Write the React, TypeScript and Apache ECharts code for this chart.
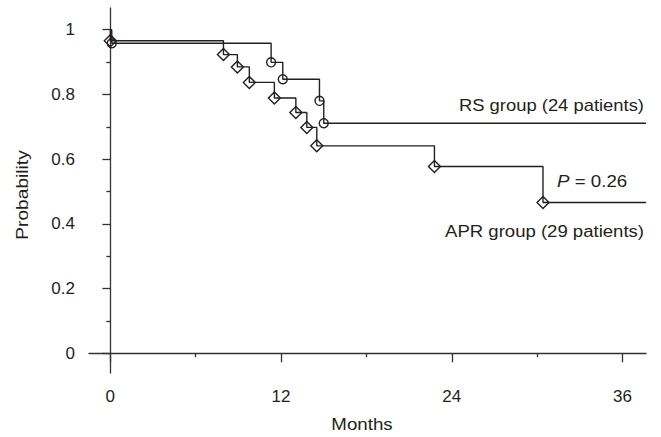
import React, { useEffect, useRef } from "react";
import * as echarts from "echarts";

// Kaplan–Meier style event times (months) and survival probabilities
const aprTimes = [0, 7.95, 8.93, 9.77, 11.53, 13.04, 13.81, 14.51, 22.78, 30.41];
const aprSurvival = [0.966, 0.923, 0.885, 0.837, 0.789, 0.744, 0.698, 0.641, 0.577, 0.466];
const rsTimes = [0.1, 11.3, 12.12, 14.7, 15.0];
const rsSurvival = [0.958, 0.899, 0.847, 0.78, 0.711];
const followUpEnd = 37.65;

const xTickLabels = [0, 12, 24, 36];
const xMinorTicks = [6, 18, 30];
const yTickLabels = [0, 0.2, 0.4, 0.6, 0.8, 1];
const yMinorTicks = [0.1, 0.3, 0.5, 0.7, 0.9];

const xTitle = "Months";
const yTitle = "Probability";
const rsLabel = "RS group (24 patients)";
const aprLabel = "APR group (29 patients)";
const pValue = "0.26";

const FONT = "Liberation Sans, Arial, Helvetica, sans-serif";
const INK = "#231f20";
const AX = "#333";

function buildSteps(times: number[], surv: number[], symbol: string, size: number | number[]) {
  const data: any[] = [{ value: [0, 1], symbol: "none" }];
  times.forEach((t, i) => {
    data.push({ value: [t, surv[i]], symbol, symbolSize: size });
  });
  data.push({ value: [followUpEnd, surv[surv.length - 1]], symbol: "none" });
  return data;
}

export default function App() {
  const ref = useRef<HTMLDivElement>(null);
  useEffect(() => {
    if (!ref.current) return;
    const chart = echarts.init(ref.current, undefined, { renderer: "svg" });
    const tickStyle = { color: AX, width: 1.3 };
    const txt = (text: string, x: number, y: number, align: string, scaleX: number, rotation = 0, extra: any = {}) => ({
      type: "text",
      x,
      y,
      scaleX,
      rotation,
      style: { text, align, verticalAlign: "middle", fontSize: 16, fill: INK, fontFamily: FONT, ...extra },
    });
    chart.setOption({
      animation: false,
      backgroundColor: "#fff",
      textStyle: { fontFamily: FONT },
      grid: { left: 89, right: 15, top: 8, bottom: 64, containLabel: false },
      xAxis: [
        {
          type: "value",
          position: "bottom",
          min: -1.5,
          max: followUpEnd,
          axisLine: { show: true, lineStyle: tickStyle },
          axisTick: { show: true, length: 9, customValues: xTickLabels, lineStyle: tickStyle },
          axisLabel: { customValues: xTickLabels, margin: 15, fontSize: 17, color: INK, fontFamily: FONT },
          splitLine: { show: false },
        },
        {
          type: "value",
          position: "bottom",
          min: -1.5,
          max: followUpEnd,
          axisLine: { show: false },
          axisTick: { show: true, length: 4, customValues: xMinorTicks, lineStyle: tickStyle },
          axisLabel: { show: false },
          splitLine: { show: false },
        },
      ],
      yAxis: [
        {
          type: "value",
          position: "left",
          min: -0.061,
          max: 1.067,
          axisLine: { show: true, lineStyle: tickStyle },
          axisTick: { show: true, length: 8, customValues: yTickLabels, lineStyle: tickStyle },
          axisLabel: { customValues: yTickLabels, margin: 14, fontSize: 17, color: INK, fontFamily: FONT },
          splitLine: { show: false },
        },
        {
          type: "value",
          position: "left",
          min: -0.061,
          max: 1.067,
          axisLine: { show: false },
          axisTick: { show: true, length: 4, customValues: yMinorTicks, lineStyle: tickStyle },
          axisLabel: { show: false },
          splitLine: { show: false },
        },
      ],
      series: [
        {
          name: "RS",
          type: "line",
          step: "end",
          xAxisIndex: 0,
          yAxisIndex: 0,
          data: buildSteps(rsTimes, rsSurvival, "circle", 9),
          lineStyle: { color: INK, width: 1.4 },
          itemStyle: { color: "rgba(0,0,0,0)", borderColor: INK, borderWidth: 1.4 },
          showSymbol: true,
          showAllSymbol: true,
          z: 3,
        },
        {
          name: "APR",
          type: "line",
          step: "end",
          xAxisIndex: 0,
          yAxisIndex: 0,
          data: buildSteps(aprTimes, aprSurvival, "diamond", 12),
          lineStyle: { color: INK, width: 1.4 },
          itemStyle: { color: "rgba(0,0,0,0)", borderColor: INK, borderWidth: 1.4 },
          showSymbol: true,
          showAllSymbol: true,
          z: 3,
        },
      ],
      graphic: [
        txt(rsLabel, 644, 105, "right", 1.15),
        txt(aprLabel, 644, 231, "right", 1.16),
        txt("{i|P} = " + pValue, 557, 181, "left", 1.17, 0, {
          rich: { i: { fontStyle: "italic", fontSize: 16, fill: INK, fontFamily: FONT } },
        }),
        txt(xTitle, 362, 424, "center", 1.17),
        txt(yTitle, 23, 195, "center", 1.2, Math.PI / 2),
      ],
    });
    return () => chart.dispose();
  }, []);
  return <div ref={ref} style={{ width: 661, height: 437, position: "absolute", left: 0, top: 0 }} />;
}
